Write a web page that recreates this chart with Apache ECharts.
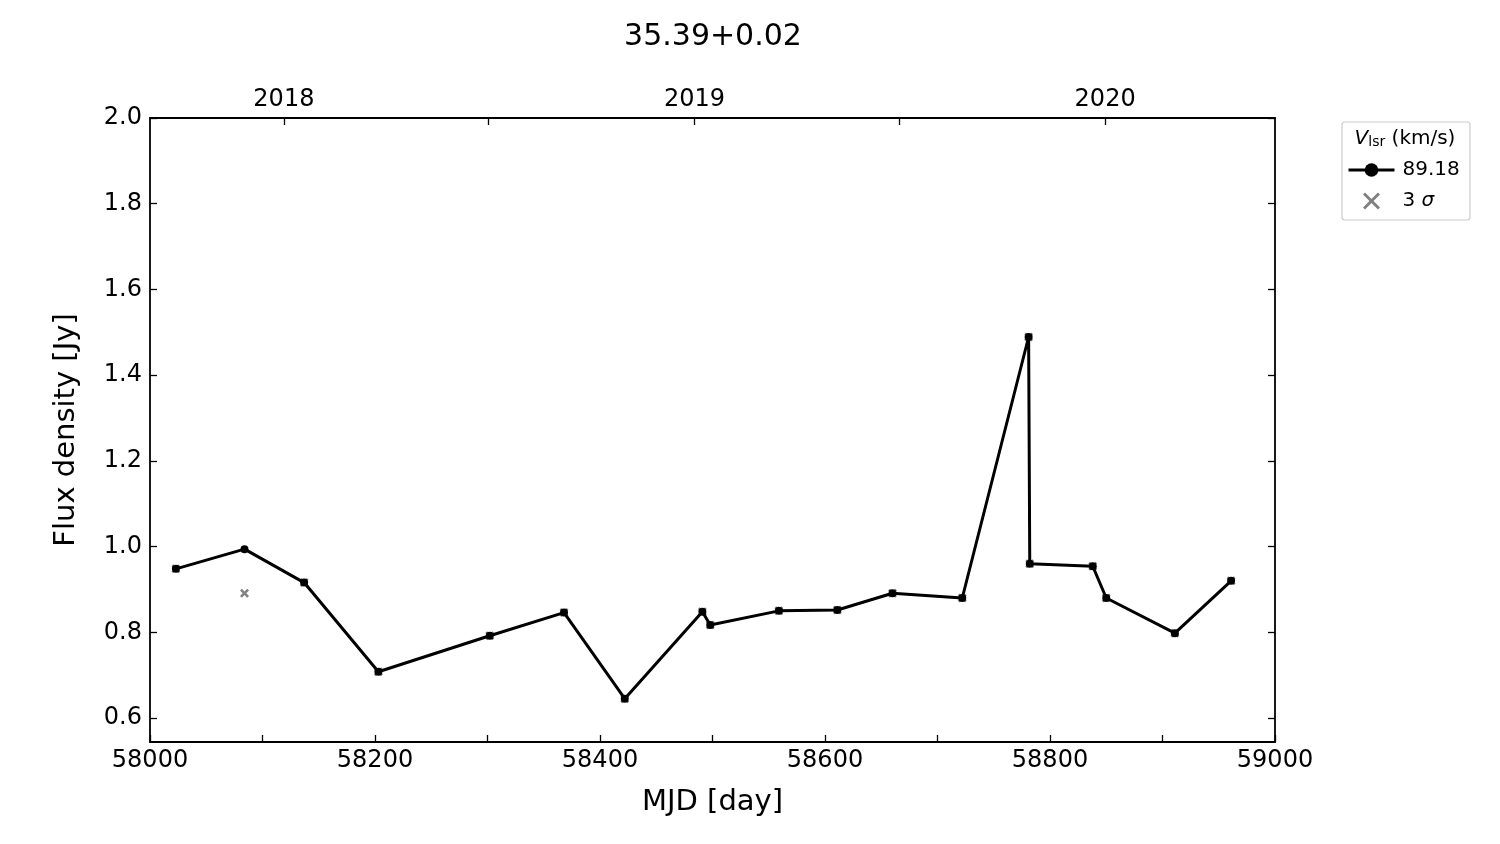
<!DOCTYPE html>
<html>
<head>
<meta charset="utf-8">
<script src="https://cdn.jsdelivr.net/npm/echarts@6/dist/echarts.min.js"></script>
<style>html,body{margin:0;padding:0;background:#fff}#c{width:1500px;height:844px}</style>
</head>
<body>
<div id="c"></div>
<script>
// ---- data ----
const mjd = [58023, 58084, 58137, 58203, 58302, 58368, 58422, 58491, 58498, 58559, 58611, 58660, 58722, 58781, 58782, 58838, 58850, 58911, 58961];
const flux = [0.948, 0.994, 0.916, 0.708, 0.792, 0.846, 0.645, 0.848, 0.817, 0.850, 0.852, 0.891, 0.880, 1.489, 0.960, 0.954, 0.880, 0.798, 0.920];
const sigma3 = [0.948, 0.891, 0.916, 0.708, 0.792, 0.846, 0.645, 0.848, 0.817, 0.850, 0.852, 0.891, 0.880, 1.489, 0.960, 0.954, 0.880, 0.798, 0.920];
const yTicks = [0.6, 0.8, 1.0, 1.2, 1.4, 1.6, 1.8, 2.0];
const yearTicks = [58119, 58484, 58849];
const yearLabels = ['2018', '2019', '2020'];
const halfYearTicks = [58301, 58666];
const chartTitle = '35.39+0.02';
const seriesName = '89.18';
const sigmaName = '3 σ';

const F = 'DejaVu Sans';
const X_PATH = 'path://M2,0 L5,3 L8,0 L10,2 L7,5 L10,8 L8,10 L5,7 L2,10 L0,8 L3,5 L0,2 Z';
const X_THIN = 'path://M1.2,0 L5,3.8 L8.8,0 L10,1.2 L6.2,5 L10,8.8 L8.8,10 L5,6.2 L1.2,10 L0,8.8 L3.8,5 L0,1.2 Z';

const chart = echarts.init(document.getElementById('c'), null, {renderer: 'canvas'});
const axisLine = {show: true, lineStyle: {color: '#000', width: 1.8}};
const tick = {inside: true, length: 7, lineStyle: {color: '#000', width: 1.3}};
chart.setOption({
  animation: false,
  backgroundColor: '#fff',
  title: {text: chartTitle, left: 708, top: 17, textAlign: 'center',
    textStyle: {fontFamily: F, fontSize: 30, fontWeight: 'normal', color: '#000'}},
  grid: {left: 150, right: 225, top: 118, bottom: 102, containLabel: false},
  xAxis: [{
    type: 'value', position: 'bottom', min: 58000, max: 59000, interval: 200,
    name: 'MJD [day]', nameLocation: 'middle', nameGap: 46,
    nameTextStyle: {fontFamily: F, fontSize: 29, color: '#000'},
    axisLine: axisLine,
    axisTick: tick,
    minorTick: {show: true, splitNumber: 2, length: 7, lineStyle: {color: '#000', width: 1.3}},
    axisLabel: {fontFamily: F, fontSize: 24, color: '#000', margin: 7, formatter: v => String(v)},
    splitLine: {show: false}
  }, {
    type: 'value', position: 'top', min: 58000, max: 59000,
    axisLine: axisLine,
    axisTick: Object.assign({customValues: yearTicks.concat(halfYearTicks)}, tick),
    axisLabel: {fontFamily: F, fontSize: 24, color: '#000', margin: 6,
      customValues: yearTicks,
      formatter: v => yearLabels[yearTicks.indexOf(v)] || ''},
    splitLine: {show: false}
  }],
  yAxis: [{
    type: 'value', position: 'left', min: 0.544, max: 2.0,
    name: 'Flux density [Jy]', nameLocation: 'middle', nameGap: 69,
    nameTextStyle: {fontFamily: F, fontSize: 29, color: '#000'},
    axisLine: axisLine,
    axisTick: Object.assign({customValues: yTicks}, tick),
    axisLabel: {fontFamily: F, fontSize: 24, color: '#000', margin: 8, customValues: yTicks,
      formatter: v => v.toFixed(1)},
    splitLine: {show: false}
  }, {
    type: 'value', position: 'right', min: 0.544, max: 2.0,
    axisLine: axisLine,
    axisTick: Object.assign({customValues: yTicks}, tick),
    axisLabel: {show: false},
    splitLine: {show: false}
  }],
  legend: {
    orient: 'vertical', left: 1342, top: 155, itemWidth: 46, itemHeight: 17, itemGap: 11,
    textStyle: {fontFamily: F, fontSize: 20, color: '#000', padding: [0, 0, 0, 3],
      rich: {i: {fontFamily: F, fontSize: 20, fontStyle: 'italic', color: '#000'},
             n: {fontFamily: F, fontSize: 20, color: '#000'}}},
    formatter: name => name === sigmaName ? '{n|3 }{i|σ}' : name,
    data: [{name: seriesName, lineStyle: {width: 3}},
           {name: sigmaName, icon: X_THIN, itemStyle: {color: '#808080', opacity: 1}}]
  },
  graphic: [
    {type: 'rect', z: 0, shape: {x: 1342, y: 122, width: 128, height: 98, r: 3},
      style: {fill: '#fff', stroke: '#cccccc', lineWidth: 1.2}},
    {type: 'text', z: 1, x: 1405, y: 139, style: {
      text: '{v|V}{s|lsr}{t| (km/s)}', align: 'center', verticalAlign: 'middle',
      rich: {
        v: {fontFamily: F, fontSize: 20, fontStyle: 'italic', fill: '#000'},
        s: {fontFamily: F, fontSize: 14, fill: '#000', verticalAlign: 'bottom', padding: [7, 0, 0, 0]},
        t: {fontFamily: F, fontSize: 20, fill: '#000'}
      }}}
  ],
  series: [{
    name: sigmaName, type: 'scatter', xAxisIndex: 0, yAxisIndex: 0, z: 2,
    symbol: X_PATH, symbolSize: 9,
    itemStyle: {color: '#808080', opacity: 1},
    data: mjd.map((m, i) => [m, sigma3[i]])
  }, {
    name: seriesName, type: 'line', xAxisIndex: 0, yAxisIndex: 0, z: 3,
    symbol: 'circle', symbolSize: 8, showAllSymbol: true,
    lineStyle: {color: '#000', width: 3},
    itemStyle: {color: '#000'},
    data: mjd.map((m, i) => [m, flux[i]])
  }]
});
</script>
</body>
</html>
